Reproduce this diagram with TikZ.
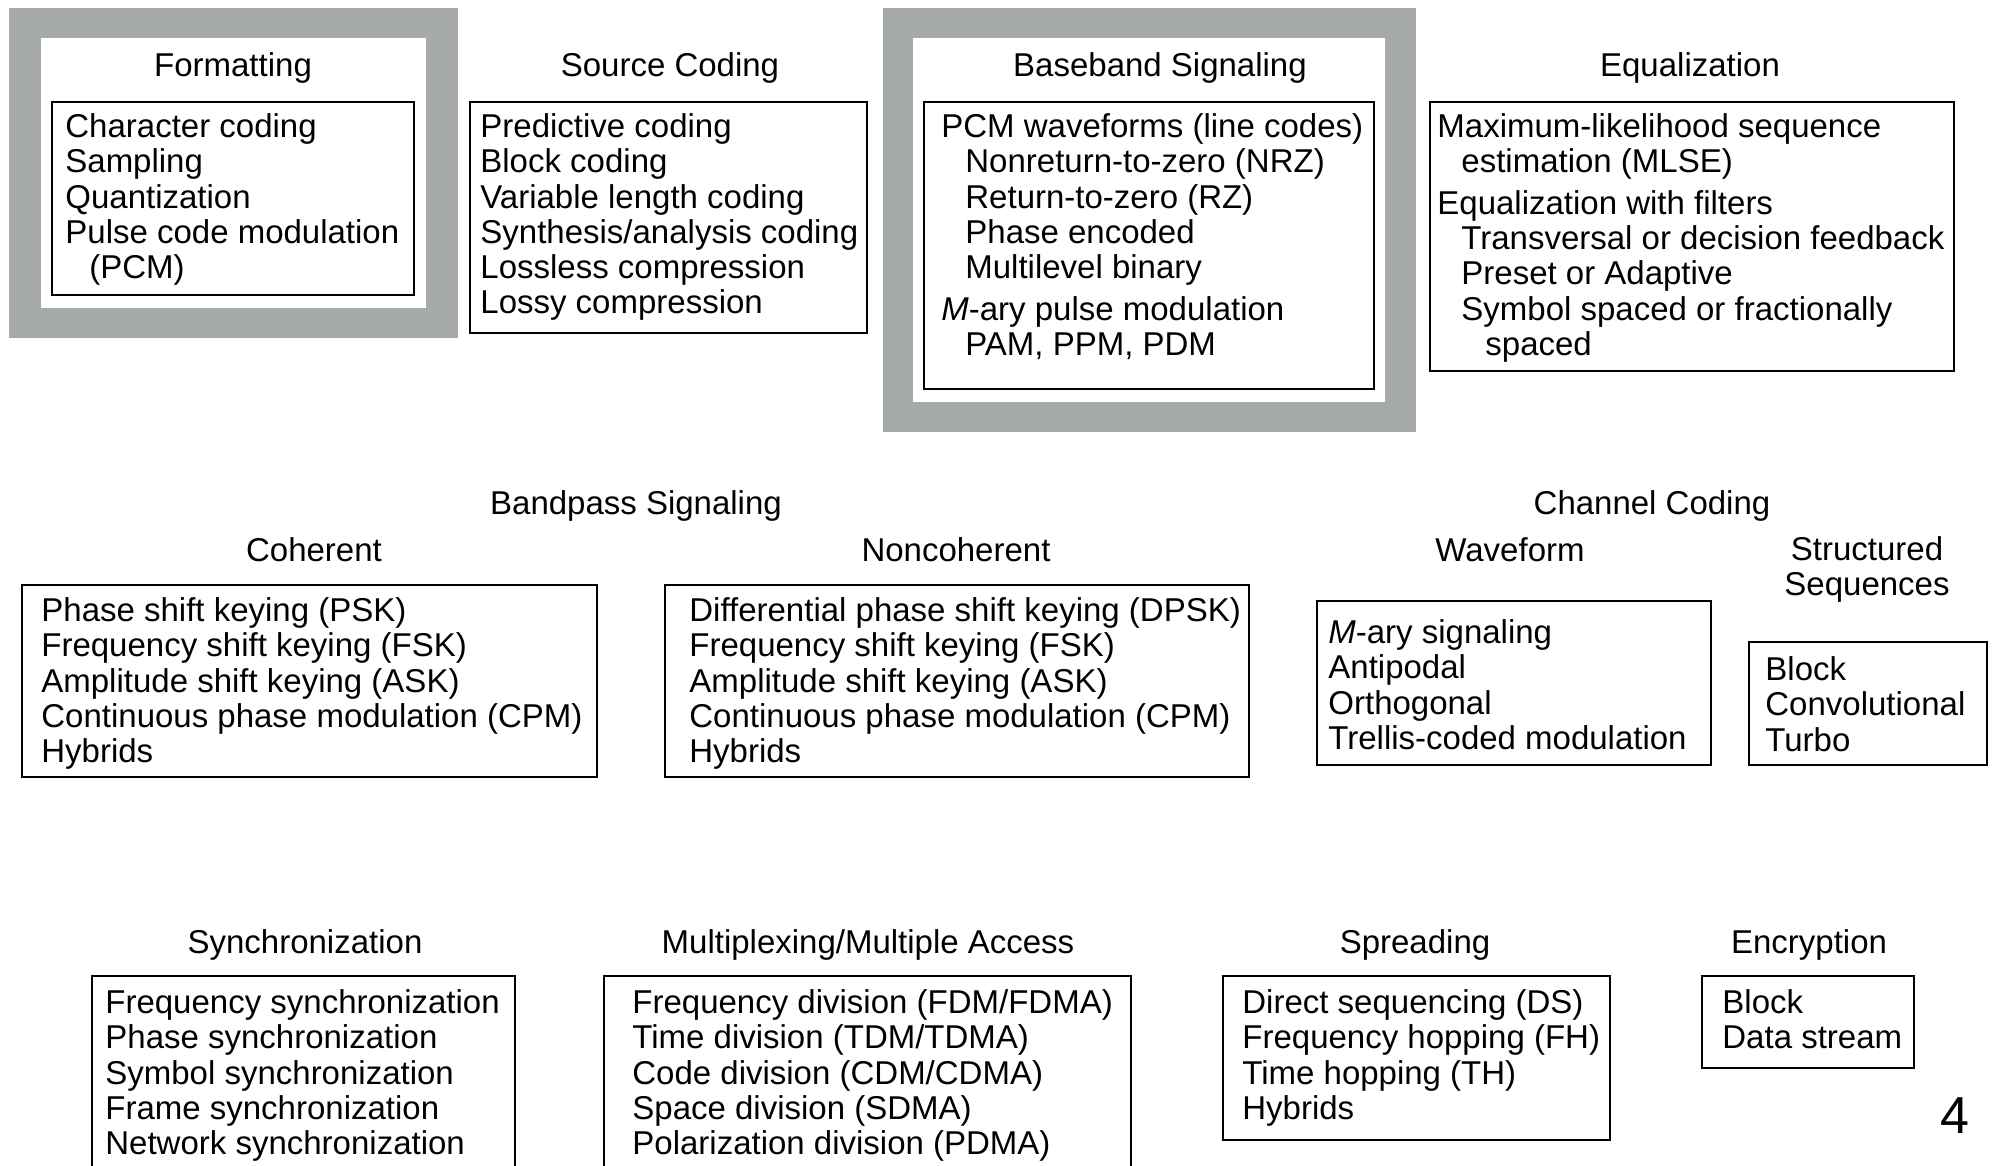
\documentclass[tikz,border=0pt]{standalone}
\usepackage{fontspec}
\setmainfont{Liberation Sans}
\definecolor{framegray}{RGB}{166,170,170}
\newcommand{\ind}{\hspace*{12pt}}
\begin{document}
\begin{tikzpicture}[x=0.5pt, y=-0.5pt, font=\fontsize{16.5}{17.6}\selectfont,
  head/.style={anchor=north, inner sep=0pt, align=center, yshift=-0.7pt, execute at begin node=\strut},
  items/.style={anchor=north west, inner sep=0pt, align=left, yshift=-1.2pt, execute at begin node=\strut},
  listbox/.style={draw, line width=1.2pt}]
  \useasboundingbox (0,0) rectangle (1993,1166);
  \clip (0,0) rectangle (1993,1166);
  % grey frames
  \fill[framegray] (9,8) rectangle (458,338);
  \fill[white] (41,38) rectangle (426,308);
  \fill[framegray] (883,8) rectangle (1416,432);
  \fill[white] (913,38) rectangle (1385,402);
  % top row
  \node[head] (fmthead) at (233,50) {Formatting};
  \draw[listbox] (52,102) rectangle (414,295);
  \node[items] (fmtlist) at (65,111) {Character coding\\Sampling\\Quantization\\Pulse code modulation\\\ind(PCM)};
  \node[head] (srchead) at (670,50) {Source Coding};
  \draw[listbox] (470,102) rectangle (867,333);
  \node[items] (srclist) at (480,111) {Predictive coding\\Block coding\\Variable length coding\\Synthesis/analysis coding\\Lossless compression\\Lossy compression};
  \node[head] (bbhead) at (1160,50) {Baseband Signaling};
  \draw[listbox] (924,102) rectangle (1374,389);
  \node[items] (bblist) at (941,111) {PCM waveforms (line codes)\\\ind Nonreturn-to-zero (NRZ)\\\ind Return-to-zero (RZ)\\\ind Phase encoded\\\ind Multilevel binary\\[3.2pt]\textit{M}-ary pulse modulation\\\ind PAM, PPM, PDM};
  \node[head] (eqhead) at (1690,50) {Equalization};
  \draw[listbox] (1430,102) rectangle (1954,371);
  \node[items] (eqlist) at (1437,111) {Maximum-likelihood sequence\\\ind estimation (MLSE)\\[3.2pt]Equalization with filters\\\ind Transversal or decision feedback\\\ind Preset or Adaptive\\\ind Symbol spaced or fractionally\\\ind\ind spaced};
  % middle row
  \node[head] (bphead) at (636,488) {Bandpass Signaling};
  \node[head] (cohhead) at (314,535) {Coherent};
  \draw[listbox] (22,585) rectangle (597,777);
  \node[items] (cohlist) at (41,595) {Phase shift keying (PSK)\\Frequency shift keying (FSK)\\Amplitude shift keying (ASK)\\Continuous phase modulation (CPM)\\Hybrids};
  \node[head] (nchead) at (956,535) {Noncoherent};
  \draw[listbox] (665,585) rectangle (1249,777);
  \node[items] (nclist) at (689,595) {Differential phase shift keying (DPSK)\\Frequency shift keying (FSK)\\Amplitude shift keying (ASK)\\Continuous phase modulation (CPM)\\Hybrids};
  \node[head] (cchead) at (1652,488) {Channel Coding};
  \node[head] (wfhead) at (1510,535) {Waveform};
  \draw[listbox] (1317,601) rectangle (1711,765);
  \node[items] (wflist) at (1328,617) {\textit{M}-ary signaling\\Antipodal\\Orthogonal\\Trellis-coded modulation};
  \node[head] (sshead) at (1867,535) {Structured\\Sequences};
  \draw[listbox] (1749,642) rectangle (1987,765);
  \node[items] (sslist) at (1765,654) {Block\\Convolutional\\Turbo};
  % bottom row
  \node[head] (synhead) at (305,927) {Synchronization};
  \draw[listbox] (92,976) rectangle (515,1200);
  \node[items] (synlist) at (105,987) {Frequency synchronization\\Phase synchronization\\Symbol synchronization\\Frame synchronization\\Network synchronization};
  \node[head] (muxhead) at (868,927) {Multiplexing/Multiple Access};
  \draw[listbox] (604,976) rectangle (1131,1200);
  \node[items] (muxlist) at (632,987) {Frequency division (FDM/FDMA)\\Time division (TDM/TDMA)\\Code division (CDM/CDMA)\\Space division (SDMA)\\Polarization division (PDMA)};
  \node[head] (sprhead) at (1415,927) {Spreading};
  \draw[listbox] (1223,976) rectangle (1610,1140);
  \node[items] (sprlist) at (1242,987) {Direct sequencing (DS)\\Frequency hopping (FH)\\Time hopping (TH)\\Hybrids};
  \node[head] (enchead) at (1809,927) {Encryption};
  \draw[listbox] (1702,976) rectangle (1914,1068);
  \node[items] (enclist) at (1722,987) {Block\\Data stream};
  \node[font=\fontsize{26}{28}\selectfont, inner sep=0pt] (pagenum) at (1955,1116) {4};
\end{tikzpicture}
\end{document}
